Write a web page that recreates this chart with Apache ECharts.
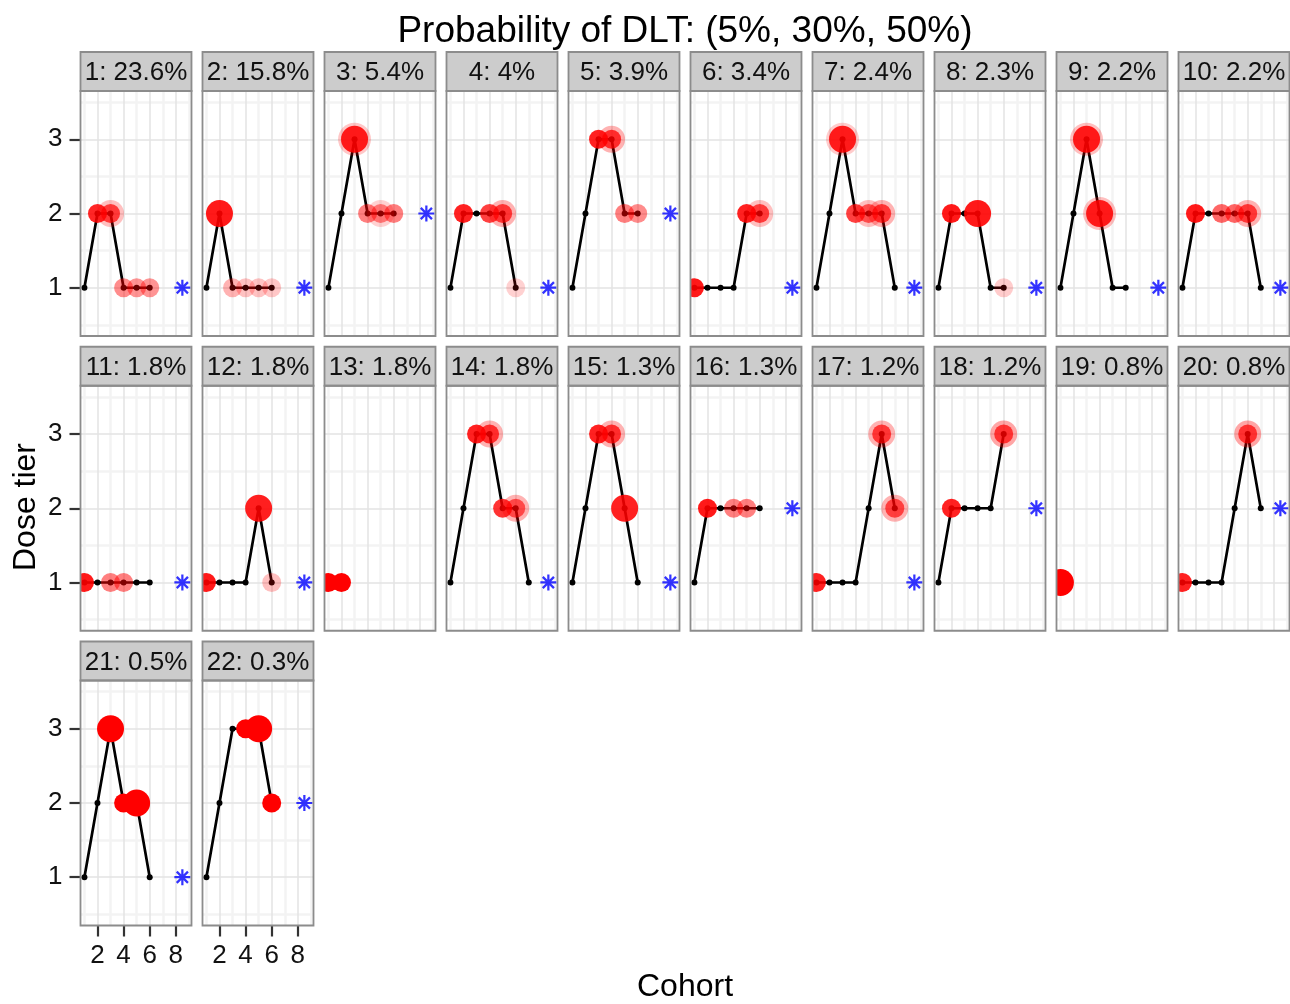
<!DOCTYPE html>
<html><head><meta charset="utf-8">
<script src="https://cdn.jsdelivr.net/npm/echarts@6/dist/echarts.min.js"></script>
<style>html,body{margin:0;padding:0;background:#fff}#c{width:1290px;height:1004px}</style>
</head><body><div id="c"></div>
<script>
// ---------- data ----------
const chartTitle = 'Probability of DLT: (5%, 30%, 50%)';
const xTitle = 'Cohort';
const yTitle = 'Dose tier';
const pathProb = [23.6, 15.8, 5.4, 4, 3.9, 3.4, 2.4, 2.3, 2.2, 2.2, 1.8, 1.8, 1.8, 1.8, 1.3, 1.3, 1.2, 1.2, 0.8, 0.8, 0.5, 0.3];
// dose tier given to each cohort (cohort 1, 2, ...)
const doses = [
  [1,2,2,1,1,1], [1,2,1,1,1,1], [1,2,3,2,2,2], [1,2,2,2,2,1], [1,2,3,3,2,2],
  [1,1,1,1,2,2], [1,2,3,2,2,2,1], [1,2,2,2,1,1], [1,2,3,2,1,1], [1,2,2,2,2,2,1],
  [1,1,1,1,1,1], [1,1,1,1,2,1], [1,1], [1,2,3,3,2,2,1], [1,2,3,3,2,1],
  [1,2,2,2,2,2], [1,1,1,1,2,3,2], [1,2,2,2,2,3], [1], [1,1,1,1,2,3,2],
  [1,2,3,2,2,1], [1,2,3,3,3,2]
];
// DLT observations: [cohort, dose tier, number of DLTs, probability weight]
const dlts = [
  [[2,2,1,.85],[3,2,1,.7],[3,2,2,.25],[4,1,1,.45],[5,1,1,.42],[6,1,1,.42]],
  [[2,2,2,.9],[3,1,1,.3],[4,1,1,.24],[5,1,1,.24],[6,1,1,.22]],
  [[3,3,2,.87],[3,3,3,.22],[4,2,1,.5],[5,2,1,.45],[5,2,2,.18],[6,2,1,.5]],
  [[2,2,1,.87],[4,2,1,.75],[5,2,1,.7],[5,2,2,.3],[6,1,1,.18]],
  [[3,3,1,.87],[4,3,1,.75],[4,3,2,.3],[5,2,1,.5],[6,2,1,.45]],
  [[1,1,1,.9],[5,2,1,.87],[6,2,1,.7],[6,2,2,.25]],
  [[3,3,2,.87],[3,3,3,.2],[4,2,1,.75],[5,2,1,.6],[5,2,2,.25],[6,2,1,.7],[6,2,2,.3]],
  [[2,2,1,.9],[4,2,2,.9],[6,1,1,.2]],
  [[3,3,2,.87],[3,3,3,.25],[4,2,2,.87],[4,2,3,.25]],
  [[2,2,1,.9],[4,2,1,.6],[5,2,1,.6],[6,2,1,.7],[6,2,2,.3]],
  [[1,1,1,.9],[3,1,1,.5],[4,1,1,.5]],
  [[1,1,1,.9],[5,2,2,.88],[6,1,1,.25]],
  [[1,1,1,1],[2,1,1,1]],
  [[3,3,1,.87],[4,3,1,.75],[4,3,2,.3],[5,2,1,.8],[6,2,1,.6],[6,2,2,.3]],
  [[3,3,1,.87],[4,3,1,.75],[4,3,2,.3],[5,2,2,.87]],
  [[2,2,1,.9],[4,2,1,.5],[5,2,1,.5]],
  [[1,1,1,.87],[6,3,1,.7],[6,3,2,.3],[7,2,1,.65],[7,2,2,.3]],
  [[2,2,1,.87],[6,3,1,.7],[6,3,2,.35]],
  [[1,1,2,1]],
  [[1,1,1,.87],[6,3,1,.7],[6,3,2,.35]],
  [[3,3,2,1],[4,2,1,1],[5,2,2,1]],
  [[4,3,1,1],[5,3,2,1],[6,2,1,1]]
];
// recommended dose tier (null = none)
const recommended = [1,1,2,1,2,1,1,1,1,1, 1,1,null,1,1,2,1,2,null,2, 1,2];
const recCohort = 8.5;
const xTicks = [2,4,6,8];
const yTicks = [1,2,3];
const xMajor = [2,4,6,8], xMinor = [1,3,5,7,9];
const yMajor = [1,2,3], yMinor = [0.5,1.5,2.5,3.5];

// ---------- layout / style ----------
const FONT = '"Liberation Sans", Arial, Helvetica, sans-serif';
const X0 = 80.5, DX = 122, PW = 111, ROW0 = 52, DY = 294.75, SH = 39, PH = 245;
const RADIUS = {1: 9.5, 2: 13.5, 3: 16.5};
const STAR = 'path://M43 0L57 0L57 100L43 100Z M0 43L100 43L100 57L0 57Z M20 10L90 80L80 90L10 20Z M90 20L20 90L10 80L80 10Z';

const grids = [], xAxes = [], yAxes = [], series = [], graphics = [];
const majorLS = {color:'#e3e3e3', width:1.5, type:'solid'};
const minorLS = {color:'#f3f3f3', width:2.5, type:'solid'};

for (let i = 0; i < doses.length; i++) {
  const r = Math.floor(i / 10), c = i % 10;
  const left = X0 + c * DX, stripTop = ROW0 + r * DY, top = stripTop + SH;
  grids.push({left, top, width: PW, height: PH, show: true, backgroundColor: '#fff', borderWidth: 0});
  const showX = r === 2, showY = c === 0;
  xAxes.push({
    type: 'value', gridIndex: i, min: 0.7, max: 9.2,
    axisLine: {show: false, onZero: false}, splitLine: {show: false},
    axisTick: {show: showX, customValues: xTicks, length: 11, lineStyle: {color: '#333', width: 2.2}},
    axisLabel: {show: showX, customValues: xTicks, margin: 17, fontSize: 26, color: '#111', fontFamily: FONT}
  });
  yAxes.push({
    type: 'value', gridIndex: i, min: 0.35, max: 3.65,
    axisLine: {show: false, onZero: false}, splitLine: {show: false},
    axisTick: {show: showY, customValues: yTicks, length: 11, lineStyle: {color: '#333', width: 2.2}},
    axisLabel: {show: showY, customValues: yTicks, margin: 18, fontSize: 26, color: '#111', fontFamily: FONT}
  });
  const gridLines = [
    ...xMinor.map(v => ({xAxis: v, lineStyle: minorLS})),
    ...yMinor.map(v => ({yAxis: v, lineStyle: minorLS})),
    ...xMajor.map(v => ({xAxis: v, lineStyle: majorLS})),
    ...yMajor.map(v => ({yAxis: v, lineStyle: majorLS}))
  ];
  series.push({
    type: 'line', xAxisIndex: i, yAxisIndex: i, z: 2, silent: true,
    data: doses[i].map((d, k) => [k + 1, d]),
    symbol: 'circle', symbolSize: 6, showSymbol: true, showAllSymbol: true,
    itemStyle: {color: '#000'}, lineStyle: {color: '#000', width: 2.7},
    markLine: {silent: true, z: 1, symbol: ['none', 'none'], label: {show: false}, emphasis: {disabled: true}, data: gridLines}
  });
  series.push({
    type: 'custom', xAxisIndex: i, yAxisIndex: i, z: 3, silent: true, clip: true,
    data: dlts[i],
    encode: {x: 0, y: 1},
    renderItem: (params, api) => {
      const p = api.coord([api.value(0), api.value(1)]);
      return {type: 'circle', shape: {cx: p[0], cy: p[1], r: RADIUS[api.value(2)]},
              style: {fill: 'rgba(255,0,0,' + api.value(3) + ')'}};
    }
  });
  if (recommended[i] != null) {
    series.push({
      type: 'scatter', xAxisIndex: i, yAxisIndex: i, z: 4, silent: true,
      data: [[recCohort, recommended[i]]],
      symbol: STAR, symbolSize: 16, symbolKeepAspect: true,
      itemStyle: {color: '#0000ff'}
    });
  }
  // strip
  graphics.push({type: 'rect', z: 100, shape: {x: left, y: stripTop, width: PW, height: SH},
    style: {fill: '#cccccc', stroke: '#8c8c8c', lineWidth: 1.8}});
  graphics.push({type: 'text', z: 101, x: left + PW / 2, y: stripTop + SH / 2 + 1.5,
    style: {text: (i + 1) + ': ' + pathProb[i] + '%', fill: '#111', font: '26px ' + FONT,
            align: 'center', verticalAlign: 'middle', textAlign: 'center', textVerticalAlign: 'middle'}});
  // panel border
  graphics.push({type: 'rect', z: 100, shape: {x: left, y: top, width: PW, height: PH},
    style: {fill: 'none', stroke: '#8c8c8c', lineWidth: 1.8}});
}

graphics.push({type: 'text', z: 101, x: 685, y: 32,
  style: {text: chartTitle, fill: '#000', font: '37px ' + FONT, align: 'center', verticalAlign: 'middle', textAlign: 'center', textVerticalAlign: 'middle'}});
graphics.push({type: 'text', z: 101, x: 685, y: 987,
  style: {text: xTitle, fill: '#000', font: '32px ' + FONT, align: 'center', verticalAlign: 'middle', textAlign: 'center', textVerticalAlign: 'middle'}});
graphics.push({type: 'text', z: 101, x: 26, y: 507, rotation: Math.PI / 2,
  style: {text: yTitle, fill: '#000', font: '32px ' + FONT, align: 'center', verticalAlign: 'middle', textAlign: 'center', textVerticalAlign: 'middle'}});

const chart = echarts.init(document.getElementById('c'), null, {renderer: 'canvas'});
chart.setOption({
  animation: false,
  backgroundColor: '#fff',
  grid: grids, xAxis: xAxes, yAxis: yAxes, series,
  graphic: {elements: graphics}
});
</script></body></html>
